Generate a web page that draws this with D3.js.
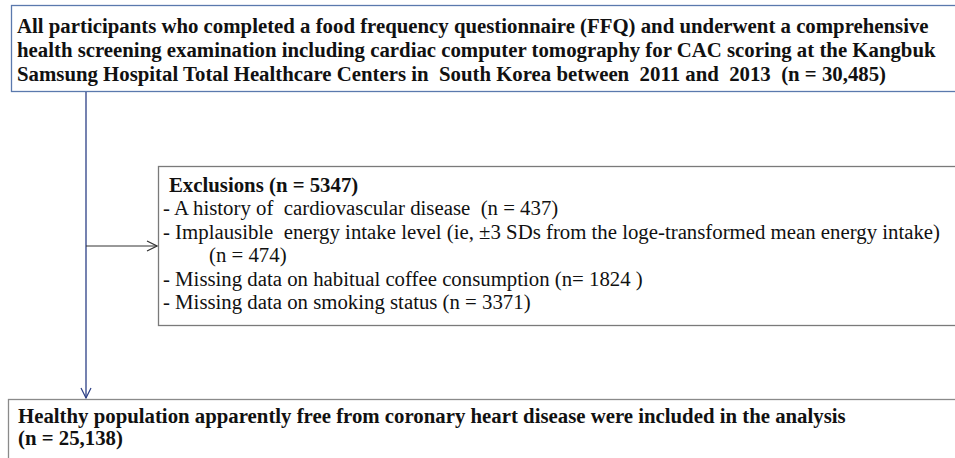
<!DOCTYPE html>
<html>
<head>
<meta charset="utf-8">
<script src="https://cdn.jsdelivr.net/npm/d3@7"></script>
<style>
  body { margin: 0; background: #fff; }
  svg { display: block; }
  text { font-family: "Liberation Serif", "Times New Roman", serif; fill: #111; }
</style>
</head>
<body>
<svg id="chart" width="955" height="458"></svg>
<script>
// flow chart contents
const topLines = [
  "All participants who completed a food frequency questionnaire (FFQ) and underwent a comprehensive",
  "health screening examination including cardiac computer tomography for CAC scoring at the Kangbuk",
  "Samsung Hospital Total Healthcare Centers in  South Korea between  2011 and  2013  (n = 30,485)"
];
const exclTitle = "Exclusions (n = 5347)";
const exclLines = [
  {text: "- A history of  cardiovascular disease  (n = 437)", indent: false},
  {text: "- Implausible  energy intake level (ie, \u00b13 SDs from the loge-transformed mean energy intake)", indent: false},
  {text: "(n = 474)", indent: true},
  {text: "- Missing data on habitual coffee consumption (n= 1824 )", indent: false},
  {text: "- Missing data on smoking status (n = 3371)", indent: false}
];
const bottomLines = [
  "Healthy population apparently free from coronary heart disease were included in the analysis",
  "(n = 25,138)"
];

const fontSize = 20.8;
const svg = d3.select("#chart");

const defs = svg.append("defs");
function arrowHead(id, color) {
  defs.append("marker")
    .attr("id", id)
    .attr("viewBox", "0 0 12 12")
    .attr("refX", 11).attr("refY", 6)
    .attr("markerWidth", 12).attr("markerHeight", 12)
    .attr("markerUnits", "userSpaceOnUse")
    .attr("orient", "auto")
    .append("path")
    .attr("d", "M1,1 L11,6 L1,11")
    .attr("fill", "none")
    .attr("stroke", color)
    .attr("stroke-width", 1.2);
}
arrowHead("arrBlue", "#2c3f86");
arrowHead("arrGray", "#333");

// top box
svg.append("rect")
  .attr("x", 11.5).attr("y", 5.5).attr("width", 960).attr("height", 86)
  .attr("fill", "none").attr("stroke", "#5b79ad").attr("stroke-width", 1.3);

svg.append("g").selectAll("text")
  .data(topLines)
  .join("text")
  .attr("x", 17)
  .attr("y", (d, i) => 33 + i * 24)
  .attr("font-size", fontSize)
  .attr("font-weight", "bold")
  .style("white-space", "pre")
  .text(d => d);

// main vertical flow line
svg.append("line")
  .attr("x1", 86).attr("y1", 92).attr("x2", 86).attr("y2", 398)
  .attr("stroke", "#2c3f86").attr("stroke-width", 1.3)
  .attr("marker-end", "url(#arrBlue)");

// branch to exclusions
svg.append("line")
  .attr("x1", 86).attr("y1", 246).attr("x2", 157).attr("y2", 246)
  .attr("stroke", "#333").attr("stroke-width", 1)
  .attr("marker-end", "url(#arrGray)");

// exclusions box
svg.append("rect")
  .attr("x", 158.5).attr("y", 166.5).attr("width", 820).attr("height", 159)
  .attr("fill", "#fff").attr("stroke", "#7a7a7a").attr("stroke-width", 1.3);

svg.append("text")
  .attr("x", 169).attr("y", 192)
  .attr("font-size", fontSize)
  .attr("font-weight", "bold")
  .text(exclTitle);

svg.append("g").selectAll("text")
  .data(exclLines)
  .join("text")
  .attr("x", d => d.indent ? 209 : 163)
  .attr("y", (d, i) => 215 + i * 23.5)
  .attr("font-size", fontSize)
  .style("white-space", "pre")
  .text(d => d.text);

// bottom box
svg.append("rect")
  .attr("x", 8.5).attr("y", 399.5).attr("width", 960).attr("height", 80)
  .attr("fill", "none").attr("stroke", "#8a8a8a").attr("stroke-width", 1.3);

svg.append("g").selectAll("text")
  .data(bottomLines)
  .join("text")
  .attr("x", 18)
  .attr("y", (d, i) => 423 + i * 22)
  .attr("font-size", fontSize)
  .attr("font-weight", "bold")
  .style("white-space", "pre")
  .text(d => d);
</script>
</body>
</html>
